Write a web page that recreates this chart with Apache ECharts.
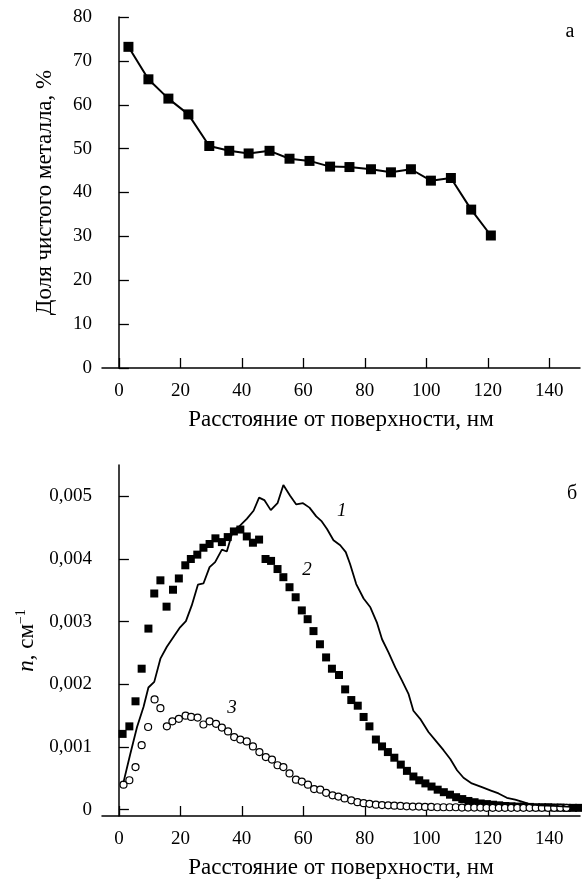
<!DOCTYPE html>
<html>
<head>
<meta charset="utf-8">
<script src="https://cdn.jsdelivr.net/npm/echarts@6/dist/echarts.min.js"></script>
<style>
  html, body { margin: 0; padding: 0; background: #fff; }
  #chart { width: 582px; height: 881px; }
</style>
</head>
<body>
<div id="chart"></div>
<script>
// Panel a: share of pure metal vs depth
const depthA = [3.1, 9.6, 16.1, 22.6, 29.4, 35.9, 42.2, 49.0, 55.5, 62.0, 68.7, 75.0, 82.0, 88.5, 95.0, 101.5, 108.0, 114.6, 121.0];
const metalShare = [73.2, 65.8, 61.4, 57.8, 50.6, 49.5, 48.9, 49.5, 47.7, 47.2, 45.9, 45.8, 45.3, 44.6, 45.3, 42.7, 43.3, 36.1, 30.2];

// Panel b, curve 1 (solid line): [depth, n]
const curve1 = [
  [1.5, 0.00044], [3.7, 0.00089], [5.9, 0.00132], [8.0, 0.00164], [9.6, 0.00195], [11.5, 0.00204],
  [13.5, 0.00241], [15.6, 0.00260], [17.8, 0.00276], [19.9, 0.00291], [21.8, 0.00301], [23.7, 0.00326],
  [25.7, 0.00359], [27.5, 0.00361], [29.5, 0.00387], [31.3, 0.00395], [33.5, 0.00415], [35.1, 0.00412],
  [37.1, 0.00445], [38.9, 0.00451], [41.6, 0.00464], [43.8, 0.00477], [45.6, 0.00498], [47.3, 0.00494],
  [49.4, 0.00478], [51.6, 0.00489], [53.5, 0.00518], [55.7, 0.00501], [57.7, 0.00487], [59.9, 0.00489],
  [62.0, 0.00482], [64.2, 0.00468], [66.0, 0.00460], [67.7, 0.00448], [69.8, 0.00430], [72.0, 0.00422],
  [73.8, 0.00411], [75.2, 0.00392], [77.2, 0.00360], [79.6, 0.00337], [81.8, 0.00323], [83.9, 0.00299],
  [85.6, 0.00272], [87.7, 0.00251], [89.9, 0.00227], [92.1, 0.00206], [94.2, 0.00185], [95.8, 0.00158],
  [98.0, 0.00145], [100.7, 0.00124], [102.9, 0.00111], [105.6, 0.00095], [107.8, 0.00081], [110.0, 0.00063],
  [112.1, 0.00051], [114.8, 0.00042], [118.1, 0.00036], [120.8, 0.00031], [123.5, 0.00026], [126.2, 0.00019],
  [128.9, 0.00016], [131.6, 0.00012], [133.8, 0.000085], [137.0, 0.00007], [141.4, 0.00006], [145.7, 0.00005],
  [150.0, 0.00004]
];

// Panel b, curve 2 (filled squares)
const depth2 = [1.2, 3.4, 5.4, 7.4, 9.6, 11.5, 13.5, 15.5, 17.6, 19.5, 21.6, 23.4, 25.5, 27.5, 29.5, 31.4,
  33.5, 35.4, 37.4, 39.5, 41.6, 43.6, 45.6, 47.7, 49.5, 51.6, 53.5, 55.5, 57.5, 59.5, 61.4, 63.3, 65.4,
  67.4, 69.3, 71.6, 73.6, 75.6, 77.7, 79.6, 81.5, 83.6, 85.6, 87.5, 89.6, 91.7, 93.7, 95.8, 97.7,
  99.7, 101.7, 103.7, 105.7, 107.7, 109.7, 111.7, 113.7, 115.7, 117.7, 119.7, 121.7, 123.7, 125.7,
  127.7, 129.7, 131.7, 133.7, 135.7, 137.7, 139.7, 141.7, 143.7, 145.7, 147.7, 149.7];
const n2 = [0.00121, 0.00133, 0.00173, 0.00225, 0.00289, 0.00345, 0.00366, 0.00324, 0.00351, 0.00369,
  0.00390, 0.00400, 0.00407, 0.00418, 0.00424, 0.00433, 0.00427, 0.00435, 0.00444, 0.00447, 0.00436,
  0.00426, 0.00431, 0.00400, 0.00397, 0.00384, 0.00371, 0.00355, 0.00339, 0.00318, 0.00304, 0.00285,
  0.00264, 0.00243, 0.00225, 0.00215, 0.00192, 0.00175, 0.00166, 0.00148, 0.00133, 0.00112, 0.00101,
  0.00092, 0.00083, 0.00072, 0.00062, 0.00053, 0.00047,
  0.00042, 0.00037, 0.00032, 0.00028, 0.00024, 0.00020, 0.00017, 0.00014, 0.00012, 0.00010, 0.00009,
  0.00008, 0.00007, 0.00006, 0.000055, 0.00005, 0.00005, 0.000045, 0.00004, 0.00004, 0.00004,
  0.000035, 0.000035, 0.00003, 0.00003, 0.00003];

// Panel b, curve 3 (open circles)
const depth3 = [1.5, 3.4, 5.4, 7.4, 9.5, 11.6, 13.5, 15.6, 17.4, 19.5, 21.7, 23.5, 25.6, 27.5, 29.5, 31.6,
  33.5, 35.5, 37.5, 39.5, 41.6, 43.6, 45.7, 47.8, 49.8, 51.6, 53.5, 55.5, 57.6, 59.5, 61.5, 63.5, 65.5,
  67.4, 69.5, 71.4, 73.4, 75.6, 77.6, 79.6, 81.5, 83.6,
  85.6, 87.6, 89.6, 91.6, 93.6, 95.6, 97.6, 99.6, 101.6, 103.6, 105.6, 107.6, 109.6, 111.6, 113.6,
  115.6, 117.6, 119.6, 121.6, 123.6, 125.6, 127.6, 129.6, 131.6, 133.6, 135.6, 137.6, 139.6, 141.6,
  143.6, 145.6, 147.6, 149.6];
const n3 = [0.00040, 0.00047, 0.00068, 0.00103, 0.00132, 0.00176, 0.00162, 0.00133, 0.00141, 0.00145,
  0.00150, 0.00148, 0.00147, 0.00136, 0.00141, 0.00137, 0.00131, 0.00125, 0.00116, 0.00112, 0.00109,
  0.00101, 0.00092, 0.00084, 0.00080, 0.00071, 0.00068, 0.00058, 0.00048, 0.00045, 0.00040, 0.00033,
  0.00032, 0.00027, 0.00023, 0.00021, 0.00018, 0.00015, 0.00012, 0.000105, 0.000095, 0.00008,
  0.000075, 0.00007, 0.000065, 0.00006, 0.000055, 0.00005, 0.00005, 0.000045, 0.000045, 0.00004,
  0.00004, 0.00004, 0.00004, 0.000035, 0.000035, 0.000035, 0.000035, 0.00003, 0.00003, 0.00003,
  0.00003, 0.00003, 0.00003, 0.00003, 0.00003, 0.00003, 0.00003, 0.00003, 0.00003, 0.00003, 0.00003];

// Axis ticks
const xTicks = [0, 20, 40, 60, 80, 100, 120, 140];
const yTicksB = [0, 0.001, 0.002, 0.003, 0.004, 0.005];

// Curve numbers in panel b: [text, depth, n]
const curveTags = [['1', 72.5, 0.00477], ['2', 61.2, 0.00382], ['3', 36.8, 0.00162]];

const FONT = 'Liberation Serif';
const TITLE_SIZE = 23;
const zip = (xs, ys) => xs.map((x, i) => [x, ys[i]]);

const xAxisBase = (gridIndex) => ({
  type: 'value', gridIndex, min: -5.5, max: 150,
  name: 'Расстояние от поверхности, нм',
  nameLocation: 'middle', nameGap: 40,
  nameTextStyle: { fontFamily: FONT, fontSize: TITLE_SIZE, color: '#000' },
  axisLine: { show: true, onZero: false, lineStyle: { color: '#000', width: 1.5 } },
  axisTick: { show: true, inside: true, length: 10, customValues: xTicks, lineStyle: { color: '#000', width: 1.3 } },
  axisLabel: { customValues: xTicks, fontFamily: FONT, fontSize: 19, color: '#000', margin: 14 },
  splitLine: { show: false }
});

const chart = echarts.init(document.getElementById('chart'), null, { renderer: 'canvas' });

const option = {
  animation: false,
  backgroundColor: '#fff',
  grid: [
    { left: 102, top: 17, width: 478, height: 351 },
    { left: 102, top: 465, width: 478, height: 351 }
  ],
  xAxis: [xAxisBase(0), xAxisBase(1)],
  yAxis: [
    {
      type: 'value', gridIndex: 0, min: 0, max: 80, interval: 10,
      name: 'Доля чистого металла, %',
      nameLocation: 'middle', nameGap: 46,
      nameTextStyle: { fontFamily: FONT, fontSize: TITLE_SIZE, color: '#000' },
      axisLine: { show: true, lineStyle: { color: '#000', width: 1.5 } },
      axisTick: { show: true, inside: true, length: 10, lineStyle: { color: '#000', width: 1.3 } },
      axisLabel: { fontFamily: FONT, fontSize: 19, color: '#000', margin: 10 },
      splitLine: { show: false }
    },
    {
      type: 'value', gridIndex: 1, min: -0.0001, max: 0.0055,
      name: '{it|n}, см{sup|−1}',
      nameLocation: 'middle', nameGap: 53,
      nameTextStyle: {
        fontFamily: FONT, fontSize: TITLE_SIZE, color: '#000',
        rich: {
          it: { fontFamily: FONT, fontSize: TITLE_SIZE, fontStyle: 'italic', color: '#000' },
          sup: { fontFamily: FONT, fontSize: 14, color: '#000', padding: [0, 0, 12, 0] }
        }
      },
      axisLine: { show: true, lineStyle: { color: '#000', width: 1.5 } },
      axisTick: { show: true, inside: true, length: 10, customValues: yTicksB, lineStyle: { color: '#000', width: 1.3 } },
      axisLabel: {
        customValues: yTicksB, fontFamily: FONT, fontSize: 19, color: '#000', margin: 10,
        formatter: (v) => (Math.abs(v) < 1e-9 ? '0' : v.toFixed(3).replace('.', ','))
      },
      splitLine: { show: false }
    }
  ],
  series: [
    {
      type: 'line', xAxisIndex: 0, yAxisIndex: 0,
      data: zip(depthA, metalShare),
      symbol: 'rect', symbolSize: 10,
      lineStyle: { color: '#000', width: 2 },
      itemStyle: { color: '#000' }
    },
    {
      type: 'line', xAxisIndex: 1, yAxisIndex: 1,
      data: curve1, showSymbol: false, symbol: 'none',
      lineStyle: { color: '#000', width: 1.8 }
    },
    {
      type: 'scatter', xAxisIndex: 1, yAxisIndex: 1,
      data: zip(depth2, n2),
      symbol: 'rect', symbolSize: 8,
      itemStyle: { color: '#000', opacity: 1 }
    },
    {
      type: 'scatter', xAxisIndex: 1, yAxisIndex: 1,
      data: zip(depth3, n3),
      symbol: 'circle', symbolSize: 7,
      itemStyle: { color: '#fff', borderColor: '#000', borderWidth: 1.2, opacity: 1 }
    }
  ]
};

chart.setOption(option);

// Panel letters and curve numbers
const tagGraphics = curveTags.map(([t, x, y]) => {
  const p = chart.convertToPixel({ xAxisIndex: 1, yAxisIndex: 1 }, [x, y]);
  return {
    type: 'text', x: p[0], y: p[1],
    style: { text: t, fontFamily: FONT, fontSize: 19, fontStyle: 'italic', fill: '#000', align: 'center', verticalAlign: 'middle' }
  };
});
chart.setOption({
  graphic: [
    { type: 'text', x: 570, y: 32, style: { text: 'а', fontFamily: FONT, fontSize: 20, fill: '#000', align: 'center', verticalAlign: 'middle' } },
    { type: 'text', x: 572, y: 494, style: { text: 'б', fontFamily: FONT, fontSize: 20, fill: '#000', align: 'center', verticalAlign: 'middle' } }
  ].concat(tagGraphics)
});
</script>
</body>
</html>
